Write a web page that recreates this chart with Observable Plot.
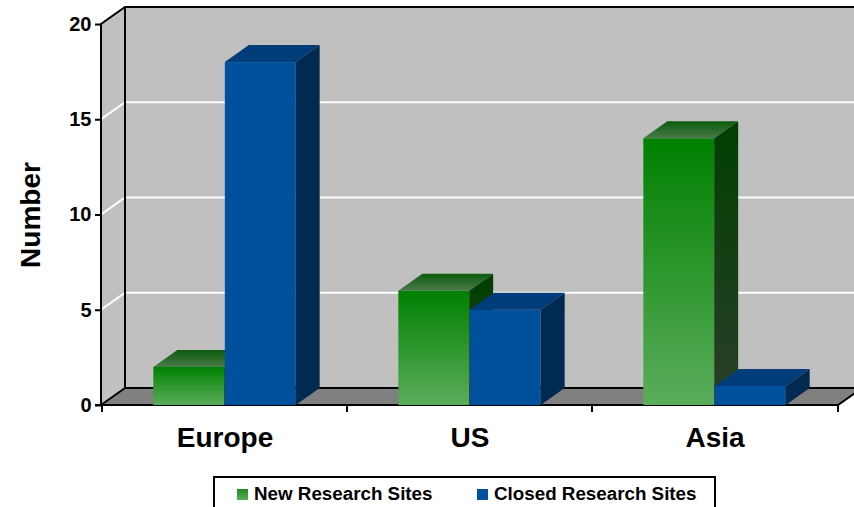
<!DOCTYPE html>
<html>
<head>
<meta charset="utf-8">
<script src="https://cdn.jsdelivr.net/npm/d3@7"></script>
<script src="https://cdn.jsdelivr.net/npm/@observablehq/plot@0.6"></script>
<style>
  body { margin: 0; background: #fff; font-family: "Liberation Sans", Arial, sans-serif; }
  #chart { position: relative; width: 854px; height: 507px; overflow: hidden; }
  #legend { position: absolute; left: 213px; top: 476px; width: 503px; height: 40px; border: 2px solid #000; box-sizing: border-box; background: #fff; }
  #legend .sw { position: absolute; width: 11px; height: 11px; top: 11px; }
  #legend .lb { position: absolute; top: 7px; font-size: 18.8px; line-height: 18px; font-weight: bold; color: #000; white-space: nowrap; }
</style>
</head>
<body>
<div id="chart"></div>
<script>
// ---- data ----
const regions = ["Europe", "US", "Asia"];
const seriesNames = ["New Research Sites", "Closed Research Sites"];
const newSites = [2, 6, 14];
const closedSites = [18, 5, 1];
const yTicks = [0, 5, 10, 15, 20];

// ---- style ----
const wallColor = "#c0c0c0";
const floorColor = "#808080";
const blueFront = "#00519d", blueTop = "#003d7a", blueSide = "#002a50";
const DX = 24, DY = 17;

const rows = regions.flatMap((r, i) => [
  {region: r, series: seriesNames[0], value: newSites[i]},
  {region: r, series: seriesNames[1], value: closedSites[i]}
]);

const W = 854, H = 470, ML = 101, MR = 16, MT = 24, MB = 65;
const bw = (W - ML - MR) / regions.length;
const barW = 71.5;
const outer = (bw - 2 * barW) / 2;

function frame3d(index, scales, values, dims) {
  const {x, y} = scales;
  const g = d3.create("svg:g");
  const x0 = dims.marginLeft, x1 = dims.width - dims.marginRight;
  const yb = y(0), yt = y(yTicks[yTicks.length - 1]);
  const pts = a => a.map(p => p.join(",")).join(" ");
  // side wall
  g.append("polygon").attr("points", pts([[x0, yt], [x0 + DX, yt - DY], [x0 + DX, yb - DY], [x0, yb]])).attr("fill", wallColor);
  // back wall
  g.append("rect").attr("x", x0 + DX).attr("y", yt - DY).attr("width", x1 - x0 + 20).attr("height", yb - yt).attr("fill", wallColor);
  // floor
  g.append("polygon").attr("points", pts([[x0, yb], [x0 + DX, yb - DY], [x1 + DX, yb - DY], [x1, yb]])).attr("fill", floorColor);
  // grid lines
  for (const v of yTicks.slice(1, -1)) {
    const yy = y(v);
    g.append("path").attr("d", `M${x0},${yy}L${x0 + DX},${yy - DY}L${x1 + DX + 20},${yy - DY}`)
      .attr("stroke", "#fff").attr("stroke-width", 2).attr("fill", "none");
  }
  // outlines
  const k = g.append("g").attr("stroke", "#000").attr("stroke-width", 2).attr("fill", "none");
  k.append("path").attr("d", `M${x0},${yb}L${x0},${yt}L${x0 + DX},${yt - DY}L${x1 + DX + 20},${yt - DY}`);
  k.append("path").attr("d", `M${x0 + DX},${yt - DY}L${x0 + DX},${yb - DY}L${x1 + DX + 20},${yb - DY}`);
  k.append("path").attr("d", `M${x0},${yb}L${x0 + DX},${yb - DY}`);
  k.append("path").attr("d", `M${x0 - 6},${yb}L${x1},${yb}L${x1 + DX},${yb - DY}`);
  // category boundary ticks
  const bounds = regions.map(r => x(r)).concat([x1]);
  for (const bx of bounds) k.append("path").attr("d", `M${bx},${yb}L${bx},${yb + 7}`);
  return g.node();
}

function extrude(topFill, sideFill) {
  return (index, scales, values, dims, ctx, next) => {
    const g = next(index, scales, values, dims, ctx);
    d3.select(g).selectAll("rect").each(function () {
      const x = +this.getAttribute("x"), y = +this.getAttribute("y");
      const w = +this.getAttribute("width"), h = +this.getAttribute("height");
      const parent = this.parentNode;
      const next = this.nextSibling;
      const top = document.createElementNS("http://www.w3.org/2000/svg", "polygon");
      top.setAttribute("points", `${x},${y} ${x + DX},${y - DY} ${x + w + DX},${y - DY} ${x + w},${y}`);
      top.setAttribute("fill", topFill);
      const side = document.createElementNS("http://www.w3.org/2000/svg", "polygon");
      side.setAttribute("points", `${x + w},${y} ${x + w + DX},${y - DY} ${x + w + DX},${y + h - DY} ${x + w},${y + h}`);
      side.setAttribute("fill", sideFill);
      parent.insertBefore(top, next);
      parent.insertBefore(side, next);
    });
    return g;
  };
}

const chart = Plot.plot({
  width: W, height: H,
  marginLeft: ML, marginRight: MR, marginTop: MT, marginBottom: MB,
  style: {fontFamily: "'Liberation Sans', Arial, sans-serif", color: "#000", background: "transparent"},
  x: {domain: regions, padding: 0, label: null},
  y: {domain: [0, 20], label: null},
  marks: [
    frame3d,
    Plot.barY(rows.filter(d => d.series === seriesNames[0]), {
      x: "region", y: "value", fill: "url(#gFront)",
      insetLeft: outer, insetRight: bw / 2,
      render: extrude("url(#gTop)", "url(#gSide)")
    }),
    Plot.barY(rows.filter(d => d.series === seriesNames[1]), {
      x: "region", y: "value", fill: blueFront,
      insetLeft: bw / 2, insetRight: outer,
      render: extrude(blueTop, blueSide)
    }),
    Plot.axisY({ticks: yTicks, tickSize: 6, tickPadding: 4, fontSize: 20, fontWeight: "bold", label: null, stroke: "#000", strokeWidth: 2}),
    Plot.axisX({tickSize: 0, tickPadding: 22, fontSize: 28, fontWeight: "bold", label: null}),
    Plot.text(["Number"], {frameAnchor: "left", textAnchor: "middle", dx: -70, rotate: -90, fontSize: 28, fontWeight: "bold", fill: "#000"})
  ]
});

const defs = d3.select(chart).insert("defs", ":first-child");
function grad(id, c0, c1) {
  const lg = defs.append("linearGradient").attr("id", id).attr("x1", 0).attr("y1", 0).attr("x2", 0).attr("y2", 1);
  lg.append("stop").attr("offset", "0%").attr("stop-color", c0);
  lg.append("stop").attr("offset", "100%").attr("stop-color", c1);
}
grad("gFront", "#008000", "#5bad5b");
grad("gTop", "#0b5c0b", "#4a7a4a");
grad("gSide", "#003f00", "#2a3f2a");

const host = document.getElementById("chart");
host.appendChild(chart);

// legend
const legend = document.createElement("div");
legend.id = "legend";
const items = [
  {name: seriesNames[0], fill: "linear-gradient(#1f8a1f, #5aad5a)", sw: 22, lb: 39},
  {name: seriesNames[1], fill: blueFront, sw: 262, lb: 279}
];
for (const it of items) {
  const s = document.createElement("span");
  s.className = "sw"; s.style.left = it.sw + "px"; s.style.background = it.fill;
  const t = document.createElement("span");
  t.className = "lb"; t.style.left = it.lb + "px"; t.textContent = it.name;
  legend.appendChild(s); legend.appendChild(t);
}
host.appendChild(legend);
</script>
</body>
</html>
